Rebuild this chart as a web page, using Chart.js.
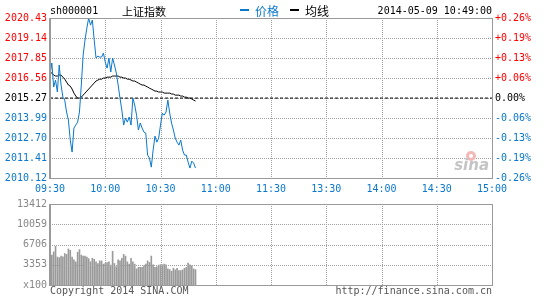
<!DOCTYPE html>
<html>
<head>
<meta charset="utf-8">
<script src="https://cdn.jsdelivr.net/npm/chart.js@4"></script>
<style>
    body { margin: 0; width: 545px; height: 300px; background: #fff; position: relative; overflow: hidden; font-family: "DejaVu Sans Mono", monospace; }
    canvas { position: absolute; left: 0; }
    .t { position: absolute; font-size: 10px; line-height: 10px; white-space: nowrap; }
    .cjk { position: absolute; font-family: "Noto Sans CJK SC", sans-serif; white-space: nowrap; }
    .dash { position: absolute; width: 9px; height: 2px; }
</style>
</head>
<body>
<canvas id="priceChart" width="545" height="200" style="top:0"></canvas>
<canvas id="volChart" width="545" height="105" style="top:195px"></canvas>

<div class="t" style="left:50px;top:6px;color:#000">sh000001</div>
<div class="cjk" style="left:122px;top:4px;font-size:11px;line-height:14px;color:#000">上证指数</div>
<div class="dash" style="left:240px;top:9px;background:#0a78cc"></div>
<div class="cjk" style="left:255px;top:3px;font-size:12px;line-height:15px;color:#0a78cc">价格</div>
<div class="dash" style="left:290px;top:9px;background:#000"></div>
<div class="cjk" style="left:305px;top:3px;font-size:12px;line-height:15px;color:#000">均线</div>
<div class="t" style="right:53px;top:6px;color:#000">2014-05-09 10:49:00</div>
<div class="t" style="left:50px;top:286px;color:#555">Copyright 2014 SINA.COM</div>
<div class="t" style="right:53px;top:286px;color:#555">http://finance.sina.com.cn</div>

<script>
// time axis labels, one every 30 minutes (lunch break merged at 11:30)
const timeLabels = ["09:30", "10:00", "10:30", "11:00", "11:30", "13:30", "14:00", "14:30", "15:00"];
const prevClose = 2015.27;
const priceTicks = [2020.43, 2019.14, 2017.85, 2016.56, 2015.27, 2013.99, 2012.70, 2011.41, 2010.12];
const pctLabels = ["+0.26%", "+0.19%", "+0.13%", "+0.06%", "0.00%", "-0.06%", "-0.13%", "-0.19%", "-0.26%"];
const volTicks = [13412, 10059, 6706, 3353, 0];
const volTickLabels = ["13412", "10059", "6706", "3353", "x100"];

// minute data 09:30 - 10:49
const price = [
    2016.75, 2017.53, 2015.98, 2016.43, 2015.66, 2017.40, 2016.11, 2015.33, 2015.14, 2014.37,
    2013.85, 2012.56, 2011.79, 2013.34, 2013.53, 2013.72, 2014.37, 2016.11, 2018.04, 2019.01,
    2019.78, 2020.43, 2019.97, 2020.30, 2019.01, 2017.85, 2017.98, 2017.91, 2017.91, 2018.17,
    2017.59, 2017.20, 2017.85, 2016.95, 2017.85, 2017.40, 2016.88, 2016.11, 2015.27, 2014.50,
    2013.53, 2013.98, 2013.72, 2014.05, 2013.53, 2015.27, 2014.82, 2014.17, 2013.21, 2013.66,
    2013.34, 2013.08, 2013.01, 2011.60, 2011.40, 2010.82, 2011.92, 2012.82, 2012.43, 2012.69,
    2013.53, 2014.30, 2014.17, 2014.37, 2015.14, 2014.30, 2013.66, 2013.21, 2012.69, 2012.43,
    2012.24, 2012.56, 2011.92, 2011.60, 2011.60, 2011.14, 2010.76, 2011.21, 2011.08, 2010.76
];
const avgPrice = [
    2016.95, 2016.88, 2016.75, 2016.69, 2016.69, 2016.75, 2016.75, 2016.62, 2016.49, 2016.30,
    2016.11, 2016.04, 2015.85, 2015.59, 2015.40, 2015.27, 2015.27, 2015.33, 2015.46, 2015.59,
    2015.72, 2015.85, 2015.98, 2016.11, 2016.24, 2016.37, 2016.43, 2016.49, 2016.49, 2016.56,
    2016.56, 2016.62, 2016.62, 2016.62, 2016.69, 2016.69, 2016.69, 2016.69, 2016.62, 2016.62,
    2016.56, 2016.56, 2016.49, 2016.49, 2016.43, 2016.37, 2016.37, 2016.30, 2016.24, 2016.17,
    2016.11, 2016.11, 2016.04, 2015.98, 2015.91, 2015.85, 2015.79, 2015.72, 2015.72, 2015.66,
    2015.66, 2015.66, 2015.59, 2015.59, 2015.59, 2015.59, 2015.53, 2015.53, 2015.46, 2015.46,
    2015.46, 2015.40, 2015.40, 2015.33, 2015.33, 2015.27, 2015.27, 2015.21, 2015.14, 2015.08
];
const volume = [
    5861, 4951, 5483, 6388, 4631, 4525, 4791, 4684, 5217, 5058,
    5963, 5749, 4631, 4152, 3833, 5430, 5861, 4951, 4791, 4791,
    4631, 4365, 3833, 4418, 4259, 3833, 3567, 3993, 3993, 3460,
    3567, 3726, 3833, 3300, 5590, 3567, 3034, 4152, 3993, 4418,
    5058, 4791, 3833, 3460, 4418, 3833, 3460, 2662, 2928, 2928,
    2928, 3194, 3460, 3993, 3726, 4791, 3354, 2928, 3034, 3300,
    3354, 3354, 3460, 3354, 2662, 2555, 2289, 2768, 2502, 2768,
    2396, 2396, 2502, 2768, 2928, 3620, 3354, 3194, 2662, 2555
];

const RED = "#ff0000";
const BLUE = "#0a78cc";
const GRID = "#a0a0a0";
const FRAME = "#9a9a9a";
const monoFont = { family: "DejaVu Sans Mono", size: 10 };

// dotted grid, drawn dot by dot so it stays crisp
function drawDotGrid(chart, yValues) {
    const { ctx, chartArea: a, scales } = chart;
    const left = Math.round(a.left), right = Math.round(a.right);
    const top = Math.round(a.top), bottom = Math.round(a.bottom);
    ctx.save();
    ctx.fillStyle = GRID;
    timeLabels.forEach((t, i) => {
        const px = Math.round(scales.x.getPixelForValue(i * 30));
        for (let y = top; y < bottom; y += 2) ctx.fillRect(px, y, 1, 1);
    });
    yValues.forEach(v => {
        const py = Math.round(scales.y.getPixelForValue(v));
        for (let x = left; x < right; x += 2) ctx.fillRect(x, py, 1, 1);
    });
    ctx.restore();
}

const gridPlugin = {
    id: "dotGrid",
    beforeDatasetsDraw(chart, args, opts) { if (!opts.over) drawDotGrid(chart, opts.values); },
    afterDatasetsDraw(chart, args, opts) { if (opts.over) drawDotGrid(chart, opts.values); }
};

// solid frame around the plot area, left side a bit heavier
const framePlugin = {
    id: "frame",
    afterDraw(chart) {
        const { ctx, chartArea: a } = chart;
        ctx.save();
        ctx.strokeStyle = FRAME;
        ctx.lineWidth = 1;
        ctx.strokeRect(a.left + 0.5, a.top + 0.5, a.right - a.left, a.bottom - a.top);
        ctx.beginPath();
        ctx.moveTo(a.left - 0.5, a.top);
        ctx.lineTo(a.left - 0.5, a.bottom + 1);
        ctx.stroke();
        ctx.restore();
    }
};

// sina watermark in the lower right corner
const watermarkPlugin = {
    id: "watermark",
    beforeDatasetsDraw(chart) {
        const { ctx, chartArea: a } = chart;
        ctx.save();
        ctx.fillStyle = "#f2b8b8";
        ctx.beginPath();
        ctx.arc(a.right - 21, a.bottom - 22, 5, 0, Math.PI * 2);
        ctx.fill();
        ctx.fillStyle = "#fff";
        ctx.beginPath();
        ctx.arc(a.right - 21, a.bottom - 22, 2, 0, Math.PI * 2);
        ctx.fill();
        ctx.fillStyle = "#c4c4c4";
        ctx.font = "italic bold 15px 'DejaVu Sans'";
        ctx.textAlign = "right";
        ctx.textBaseline = "alphabetic";
        ctx.fillText("sina", a.right - 3, a.bottom - 8);
        ctx.restore();
    }
};

function setPriceTicks(scale) {
    scale.ticks = priceTicks.slice().reverse().map(v => ({ value: v }));
}

function tickColor(ctx) {
    const v = ctx.tick.value;
    if (v > prevClose) return RED;
    if (v < prevClose) return BLUE;
    return "#000";
}

new Chart(document.getElementById("priceChart"), {
    type: "line",
    data: {
        datasets: [
            {
                label: "价格",
                data: price.map((v, i) => ({ x: i, y: v })),
                borderColor: BLUE,
                borderWidth: 1,
                pointRadius: 0,
                tension: 0
            },
            {
                label: "均线",
                data: avgPrice.map((v, i) => ({ x: i, y: v })),
                borderColor: "#000",
                borderWidth: 1,
                pointRadius: 0,
                tension: 0
            },
            {
                label: "prev",
                data: [{ x: 0, y: prevClose }, { x: 240, y: prevClose }],
                borderColor: "#000",
                borderWidth: 1,
                borderDash: [3, 2],
                pointRadius: 0
            }
        ]
    },
    options: {
        responsive: false,
        animation: false,
        events: [],
        layout: { padding: { top: 18, left: 0, right: 0, bottom: 0 } },
        plugins: {
            legend: { display: false },
            tooltip: { enabled: false },
            dotGrid: { over: false, values: priceTicks }
        },
        scales: {
            x: {
                type: "linear",
                min: 0,
                max: 240,
                afterBuildTicks: s => { s.ticks = timeLabels.map((t, i) => ({ value: i * 30 })); },
                afterFit: s => { s.height = 22; },
                ticks: {
                    color: BLUE,
                    font: monoFont,
                    padding: 5,
                    maxRotation: 0,
                    autoSkip: false,
                    callback: (v, i) => timeLabels[i]
                },
                grid: { display: false, drawTicks: false },
                border: { display: false }
            },
            y: {
                position: "left",
                min: 2010.12,
                max: 2020.43,
                afterBuildTicks: setPriceTicks,
                afterFit: s => { s.width = 50; },
                ticks: {
                    color: tickColor,
                    font: monoFont,
                    padding: 3,
                    autoSkip: false,
                    callback: v => v.toFixed(2)
                },
                grid: { display: false, drawTicks: false },
                border: { display: false }
            },
            y2: {
                position: "right",
                min: 2010.12,
                max: 2020.43,
                afterBuildTicks: setPriceTicks,
                afterFit: s => { s.width = 53; },
                ticks: {
                    color: tickColor,
                    font: monoFont,
                    padding: 3,
                    autoSkip: false,
                    callback: v => pctLabels[priceTicks.indexOf(v)]
                },
                grid: { display: false, drawTicks: false },
                border: { display: false }
            }
        }
    },
    plugins: [gridPlugin, watermarkPlugin, framePlugin]
});

new Chart(document.getElementById("volChart"), {
    type: "bar",
    data: {
        datasets: [{
            label: "volume",
            data: volume.map((v, i) => ({ x: i, y: v })),
            backgroundColor: "#9a9a9a",
            barThickness: 1
        }]
    },
    options: {
        responsive: false,
        animation: false,
        events: [],
        layout: { padding: { top: 6, left: 0, right: 53, bottom: 0 } },
        plugins: {
            legend: { display: false },
            tooltip: { enabled: false },
            dotGrid: { over: true, values: volTicks }
        },
        scales: {
            x: {
                type: "linear",
                min: 0,
                max: 240,
                offset: false,
                afterBuildTicks: s => { s.ticks = timeLabels.map((t, i) => ({ value: i * 30 })); },
                afterFit: s => { s.height = 15; },
                ticks: { display: false },
                grid: { display: false, drawTicks: false, offset: false },
                border: { display: false }
            },
            y: {
                min: 0,
                max: 13412,
                afterBuildTicks: s => { s.ticks = volTicks.slice().reverse().map(v => ({ value: v })); },
                afterFit: s => { s.width = 50; },
                ticks: {
                    color: "#888",
                    font: monoFont,
                    padding: 3,
                    autoSkip: false,
                    callback: v => volTickLabels[volTicks.indexOf(v)]
                },
                grid: { display: false, drawTicks: false },
                border: { display: false }
            }
        }
    },
    plugins: [gridPlugin, framePlugin]
});
</script>
</body>
</html>
